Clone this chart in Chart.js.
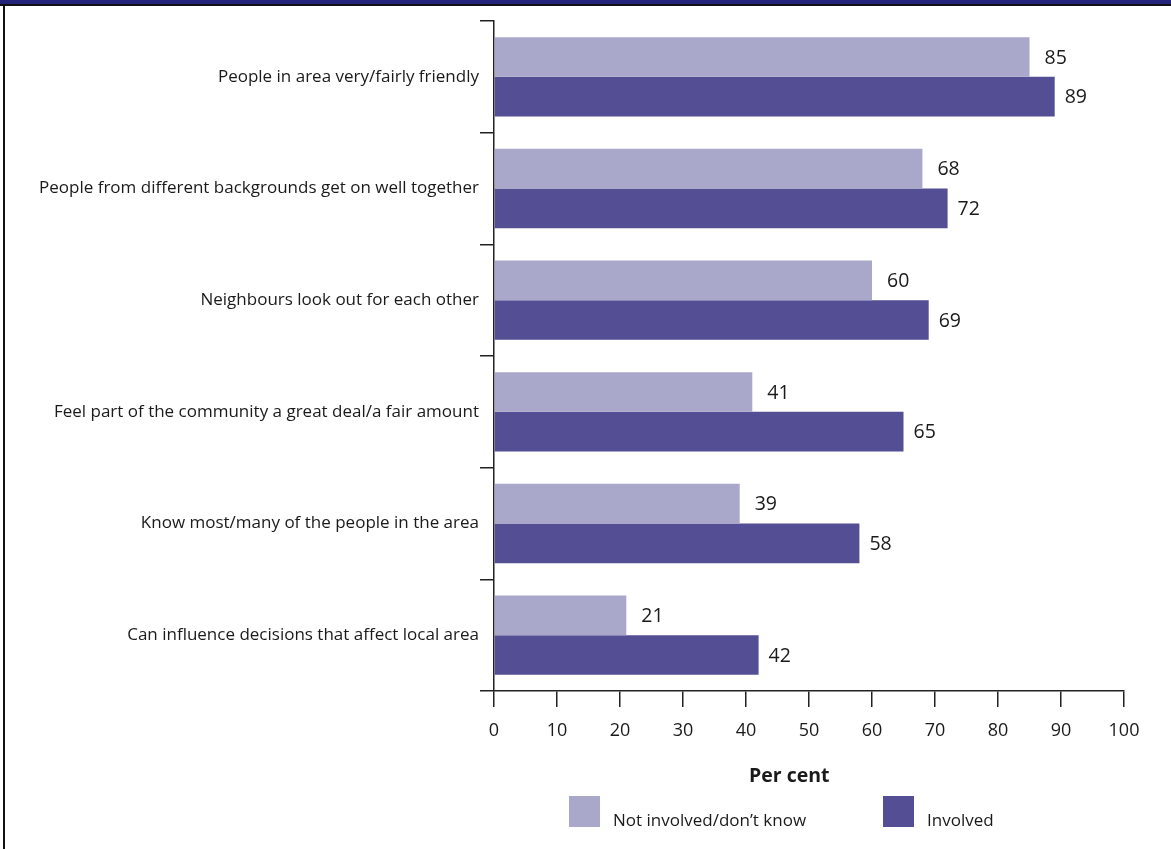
<!DOCTYPE html>
<html>
<head>
<meta charset="utf-8">
<script src="https://cdn.jsdelivr.net/npm/chart.js@4.4.1/dist/chart.umd.min.js"></script>
<style>
  body { margin: 0; background: #fff; font-family: "Open Sans", sans-serif; color: #1a1a1a; }
  #wrap { position: relative; width: 1171px; height: 849px; overflow: hidden; }
  #chart { position: absolute; left: 0; top: 0; }
  .band { position: absolute; left: 0; top: 0; width: 1171px; height: 4px; background: #23237a; }
  .bandline { position: absolute; left: 0; top: 4px; width: 1171px; height: 2px; background: #111; }
  .leftline { position: absolute; left: 3px; top: 4px; width: 2px; height: 845px; background: #111; }
  .xtitle { position: absolute; left: 749px; top: 762px; font-weight: bold; font-size: 19.5px; line-height: 26px; }
  .lg-box { position: absolute; width: 31px; height: 31px; }
  .lg-text { position: absolute; font-size: 17px; line-height: 22px; }
</style>
</head>
<body>
<div id="wrap">
  <canvas id="chart" width="1171" height="849"></canvas>
  <div class="band"></div>
  <div class="bandline"></div>
  <div class="leftline"></div>
  <div class="xtitle">Per cent</div>
  <div id="legend"></div>
</div>
<script>
// categories, top to bottom
var categories = [
  "People in area very/fairly friendly",
  "People from different backgrounds get on well together",
  "Neighbours look out for each other",
  "Feel part of the community a great deal/a fair amount",
  "Know most/many of the people in the area",
  "Can influence decisions that affect local area"
]
var notInvolved = [85, 68, 60, 41, 39, 21]
var involved    = [89, 72, 69, 65, 58, 42]
var seriesNames = ["Not involved/don\u2019t know", "Involved"]
var seriesColors = ["#a9a8ca", "#544f95"]
var xTicks = [0, 10, 20, 30, 40, 50, 60, 70, 80, 90, 100]

var axisColor = "#222"

// numbers at the end of each bar
var valueLabels = {
  id: "valueLabels",
  afterDatasetsDraw(chart){
    var ctx = chart.ctx
    ctx.save()
    ctx.font = "19.5px 'Open Sans'"
    ctx.fillStyle = "#1a1a1a"
    ctx.textBaseline = "middle"
    ctx.textAlign = "left"
    chart.data.datasets.forEach(function(ds, i){
      var meta = chart.getDatasetMeta(i)
      var gap = i == 0 ? 15 : 10
      meta.data.forEach(function(bar, j){
        ctx.fillText(ds.data[j], bar.x + gap, bar.y + 1)
      })
    })
    ctx.restore()
  }
}

new Chart(document.getElementById("chart"), {
  type: "bar",
  data: {
    labels: categories,
    datasets: [{
      label: seriesNames[0],
      data: notInvolved,
      backgroundColor: seriesColors[0],
      borderWidth: 0
    }, {
      label: seriesNames[1],
      data: involved,
      backgroundColor: seriesColors[1],
      borderWidth: 0
    }]
  },
  options: {
    indexAxis: "y",
    responsive: false,
    animation: false,
    devicePixelRatio: 1,
    layout: { padding: { top: 21, right: 47, left: 0, bottom: 0 } },
    datasets: { bar: { categoryPercentage: 0.71, barPercentage: 1.0 } },
    plugins: {
      legend: { display: false },
      tooltip: { enabled: false }
    },
    scales: {
      y: {
        afterFit: function(s){ s.width = 494 },
        grid: { display: true, offset: true, drawOnChartArea: false, tickLength: 14, color: axisColor, lineWidth: 1.5 },
        border: { display: true, color: axisColor, width: 1.5 },
        ticks: { padding: 1, color: "#1a1a1a", font: { family: "Open Sans", size: 17 } }
      },
      x: {
        min: 0,
        max: 100,
        afterFit: function(s){ s.height = 158 },
        afterBuildTicks: function(s){ s.ticks = xTicks.map(function(v){ return { value: v } }) },
        grid: { display: true, drawOnChartArea: false, tickLength: 16, color: axisColor, lineWidth: 1.5 },
        border: { display: true, color: axisColor, width: 1.5 },
        ticks: { padding: 13, color: "#1a1a1a", font: { family: "Open Sans", size: 18 } }
      }
    }
  },
  plugins: [valueLabels]
})

// legend under the axis title
var legendPos = [[569, 613], [883, 927]]
var lg = document.getElementById("legend")
seriesNames.forEach(function(name, i){
  var box = document.createElement("div")
  box.className = "lg-box"
  box.style.left = legendPos[i][0] + "px"
  box.style.top = "796px"
  box.style.background = seriesColors[i]
  lg.appendChild(box)
  var t = document.createElement("div")
  t.className = "lg-text"
  t.style.left = legendPos[i][1] + "px"
  t.style.top = "809px"
  t.textContent = name
  lg.appendChild(t)
})
</script>
</body>
</html>
